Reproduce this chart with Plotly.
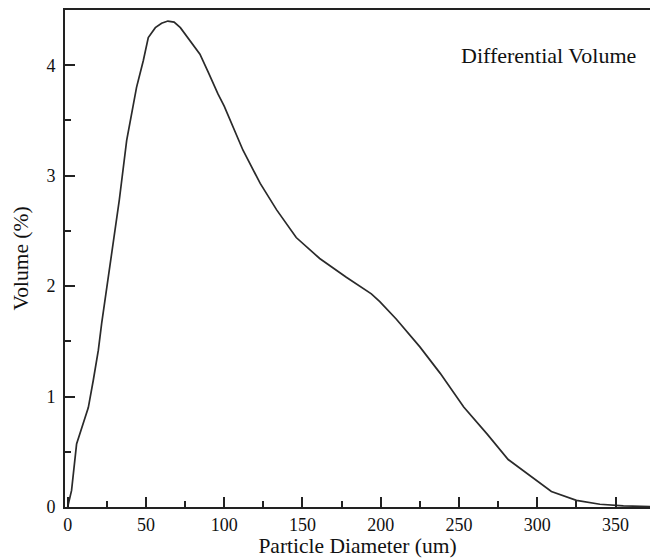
import plotly.graph_objects as go

diameter = [0, 2.5, 5.7, 8.9, 13.2, 16.4, 19.6, 21.7, 23.8, 28, 33, 37.7, 44, 48.3, 51.5, 56, 60,
            64, 68, 72, 78, 84.5, 90, 96, 100, 106, 112, 123, 133.5, 146, 161, 178, 194, 199.4,
            210, 225, 238, 253, 268, 281.4, 309, 325, 340, 355, 372]
volume = [0, 0.15, 0.57, 0.72, 0.90, 1.15, 1.42, 1.66, 1.87, 2.30, 2.78, 3.32, 3.80, 4.04, 4.25,
          4.34, 4.38, 4.40, 4.39, 4.34, 4.23, 4.10, 3.93, 3.74, 3.63, 3.43, 3.23, 2.93, 2.69,
          2.44, 2.25, 2.08, 1.93, 1.86, 1.70, 1.45, 1.21, 0.905, 0.66, 0.43, 0.14, 0.06, 0.025,
          0.01, 0.004]

x_ticks = [0, 50, 100, 150, 200, 250, 300, 350]
y_ticks = [0, 1, 2, 3, 4]

FONT = "Liberation Serif, Times New Roman, serif"
AX = "#222222"
TXT = "#111111"

fig = go.Figure()
fig.add_trace(go.Scatter(x=diameter, y=volume, mode="lines",
                         line=dict(color="#2a2a2a", width=1.7), showlegend=False,
                         hoverinfo="skip"))

fig.update_layout(
    width=650, height=558,
    margin=dict(l=65, r=0, t=10, b=51),
    paper_bgcolor="white", plot_bgcolor="white",
    font=dict(family=FONT, size=18, color=TXT),
    xaxis=dict(range=[-1.7, 372], tickvals=x_ticks, ticks="inside", ticklen=10, tickwidth=2,
               tickcolor=AX, showline=True, linecolor=AX, linewidth=2, mirror=True,
               showgrid=False, zeroline=False,
               minor=dict(ticks="inside", ticklen=6, tickwidth=2, tickcolor=AX, dtick=25, tick0=0),
               title=dict(text="Particle Diameter (um)", font=dict(size=21.5), standoff=0),
               tickfont=dict(size=18)),
    yaxis=dict(range=[0, 4.5], tickvals=y_ticks, ticks="inside", ticklen=10, tickwidth=2,
               tickcolor=AX, showline=True, linecolor=AX, linewidth=2,
               showgrid=False, zeroline=False, ticklabelstandoff=4,
               minor=dict(ticks="inside", ticklen=6, tickwidth=2, tickcolor=AX, dtick=0.5, tick0=0),
               title=dict(text="Volume (%)", font=dict(size=21.5), standoff=12),
               tickfont=dict(size=18)),
    annotations=[dict(text="Differential Volume", x=(548 - 65) / 585, y=1 - (56 - 10) / 497,
                      xref="paper", yref="paper",
                      xanchor="center", yanchor="middle", showarrow=False,
                      font=dict(size=22, family=FONT, color=TXT))],
)

fig.write_html("out.html")
